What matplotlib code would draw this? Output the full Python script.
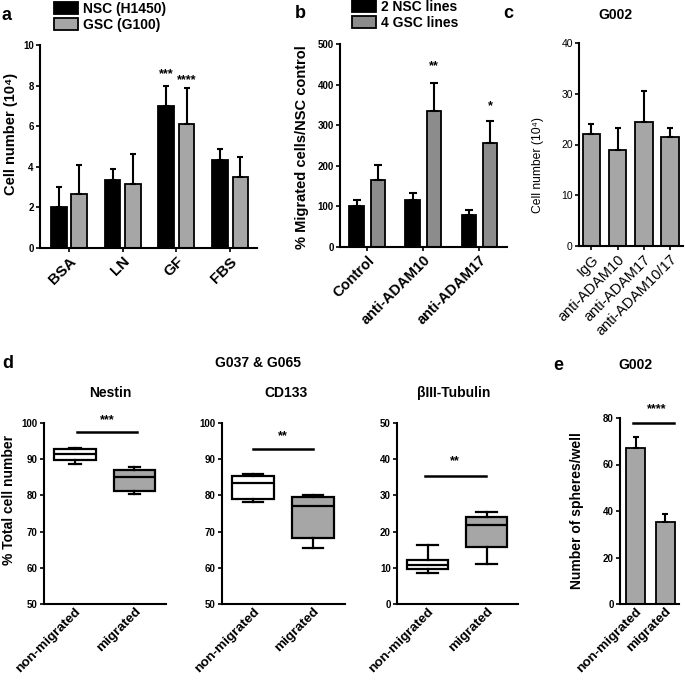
import matplotlib
matplotlib.use('Agg')
import matplotlib.pyplot as plt
import numpy as np

plt.rcParams['font.family'] = ['Liberation Sans', 'DejaVu Sans']
plt.rcParams['font.weight'] = 'bold'
plt.rcParams['axes.labelweight'] = 'bold'

# ---------------- data ----------------
a_categories = ['BSA', 'LN', 'GF', 'FBS']
a_nsc = [2.0, 3.35, 7.0, 4.33]
a_nsc_err = [1.0, 0.55, 1.0, 0.55]
a_gsc = [2.66, 3.15, 6.12, 3.48]
a_gsc_err = [1.43, 1.48, 1.78, 1.0]
a_legend = ['NSC (H1450)', 'GSC (G100)']

b_categories = ['Control', 'anti-ADAM10', 'anti-ADAM17']
b_nsc = [101, 116, 79]
b_nsc_err = [14, 18, 12]
b_gsc = [165, 336, 257]
b_gsc_err = [37, 69, 54]
b_legend = ['2 NSC lines', '4 GSC lines']

c_categories = ['IgG', 'anti-ADAM10', 'anti-ADAM17', 'anti-ADAM10/17']
c_vals = [22.1, 18.9, 24.4, 21.4]
c_err = [1.9, 4.4, 6.1, 1.9]

d_groups = ['non-migrated', 'migrated']
# whislo, q1, med, q3, whishi
nestin_stats = [[88.8, 89.7, 91.4, 92.9, 93.1], [80.5, 81.2, 85.2, 87.1, 87.9]]
cd133_stats = [[78.1, 79.0, 83.3, 85.4, 85.8], [65.4, 68.2, 77.2, 79.6, 80.1]]
tub_stats = [[8.5, 9.7, 10.7, 12.2, 16.3], [11.0, 15.8, 21.8, 24.1, 25.5]]

e_groups = ['non-migrated', 'migrated']
e_vals = [67.0, 35.4]
e_err = [4.7, 3.2]

# ---------------- layout ----------------
W, H = 685, 680
fig = plt.figure(figsize=(W / 100, H / 100), dpi=100)


def axpx(x0, y0, x1, y1):
    return fig.add_axes([x0 / W, 1 - y1 / H, (x1 - x0) / W, (y1 - y0) / H])


def style(ax, labelsize=7):
    for s in ['top', 'right']:
        ax.spines[s].set_visible(False)
    for s in ['left', 'bottom']:
        ax.spines[s].set_linewidth(1.5)
    ax.tick_params(axis='both', direction='out', length=3, width=1.2,
                   labelsize=labelsize, pad=1.5)


def fxy(x, y):
    return x / W, 1 - y / H


LW = 1.3
BLACK = '#000000'
GRAY = '#a6a6a6'
DGRAY = '#8c8c8c'
STAR = 9

# ---------------- panel a ----------------
ax = axpx(40, 45, 257, 248)
style(ax)
x = np.arange(len(a_categories))
off, wd = 0.19, 0.29
b1 = ax.bar(x - off, a_nsc, wd, color=BLACK, edgecolor='black', linewidth=LW)
b2 = ax.bar(x + off, a_gsc, wd, color=GRAY, edgecolor='black', linewidth=LW)
ax.errorbar(x - off, a_nsc, yerr=[np.zeros(len(x)), a_nsc_err], fmt='none',
            ecolor='black', elinewidth=1.5, capsize=2.2, capthick=1.5)
ax.errorbar(x + off, a_gsc, yerr=[np.zeros(len(x)), a_gsc_err], fmt='none',
            ecolor='black', elinewidth=1.5, capsize=2.2, capthick=1.5)
ax.set_ylim(0, 10)
ax.set_yticks([0, 2, 4, 6, 8, 10])
ax.set_xlim(-0.54, 3.5)
ax.set_xticks(x)
ax.set_xticklabels(a_categories, rotation=45, ha='right', rotation_mode='anchor', fontsize=11)
ax.set_ylabel('Cell number (10\u2074)', fontsize=10.5)
ax.yaxis.set_label_coords(-0.101, 0.56)
ax.text(2 - off, 8.55, '***', ha='center', va='center', fontsize=STAR)
ax.text(2 + off, 8.25, '****', ha='center', va='center', fontsize=STAR)
fig.legend([b1, b2], a_legend, loc='upper left', bbox_to_anchor=fxy(54, 2),
           frameon=False, prop={'weight': 'bold', 'size': 10}, handlelength=1.75,
           handleheight=0.95, handletextpad=0.35, labelspacing=0.15,
           borderpad=0, borderaxespad=0)
fig.text(*fxy(7, 15), 'a', fontsize=13, ha='center', va='center')

# ---------------- panel b ----------------
ax = axpx(340, 44, 507, 247)
style(ax)
x = np.arange(len(b_categories))
off, wd = 0.19, 0.26
b1 = ax.bar(x - off, b_nsc, wd, color=BLACK, edgecolor='black', linewidth=LW)
b2 = ax.bar(x + off, b_gsc, wd, color=DGRAY, edgecolor='black', linewidth=LW)
ax.errorbar(x - off, b_nsc, yerr=[np.zeros(len(x)), b_nsc_err], fmt='none',
            ecolor='black', elinewidth=1.5, capsize=2.8, capthick=1.5)
ax.errorbar(x + off, b_gsc, yerr=[np.zeros(len(x)), b_gsc_err], fmt='none',
            ecolor='black', elinewidth=1.5, capsize=2.8, capthick=1.5)
ax.set_ylim(0, 500)
ax.set_yticks([0, 100, 200, 300, 400, 500])
ax.set_xlim(-0.485, 2.49)
ax.set_xticks(x)
ax.set_xticklabels(b_categories, rotation=45, ha='right', rotation_mode='anchor', fontsize=10.5)
ax.set_ylabel('% Migrated cells/NSC control', fontsize=10.5)
ax.yaxis.set_label_coords(-0.186, 0.49)
ax.text(1 + off, 445, '**', ha='center', va='center', fontsize=STAR)
ax.text(2 + off, 346, '*', ha='center', va='center', fontsize=STAR)
fig.legend([b1, b2], b_legend, loc='upper left', bbox_to_anchor=fxy(352, 0),
           frameon=False, prop={'weight': 'bold', 'size': 10}, handlelength=1.75,
           handleheight=0.95, handletextpad=0.35, labelspacing=0.15,
           borderpad=0, borderaxespad=0)
fig.text(*fxy(300, 14), 'b', fontsize=13, ha='center', va='center')

# ---------------- panel c ----------------
ax = axpx(579, 43, 683, 246)
style(ax, labelsize=7.5)
x = np.arange(len(c_categories))
ax.bar(x, c_vals, 0.67, color=GRAY, edgecolor='black', linewidth=LW)
ax.errorbar(x, c_vals, yerr=[np.zeros(len(x)), c_err], fmt='none',
            ecolor='black', elinewidth=1.5, capsize=2.5, capthick=1.5)
ax.set_ylim(0, 40)
ax.set_yticks([0, 10, 20, 30, 40])
ax.set_yticklabels(['0', '10', '20', '30', '40'], fontweight='normal', fontsize=7.5)
ax.set_xlim(-0.475, 3.5)
ax.set_xticks(x)
ax.set_xticklabels(c_categories, rotation=45, ha='right', rotation_mode='anchor',
                   fontsize=10.5, fontweight='normal')
ax.set_ylabel('Cell number (10\u2074)', fontsize=8.7, fontweight='normal')
ax.yaxis.set_label_coords(-0.337, 0.40)
fig.text(*fxy(508, 14), 'c', fontsize=13, ha='center', va='center')
fig.text(*fxy(615, 15), 'G002', fontsize=10, ha='center', va='center')

# ---------------- panel d ----------------
fig.text(*fxy(8, 363), 'd', fontsize=13, ha='center', va='center')
fig.text(*fxy(258, 363), 'G037 & G065', fontsize=10, ha='center', va='center')


def boxpanel(rect, stats, ylim, yticks, title, title_x, sig_y, sig_x, star, star_y, capw):
    ax = axpx(*rect)
    style(ax)
    bst = [dict(whislo=s[0], q1=s[1], med=s[2], q3=s[3], whishi=s[4], fliers=[])
           for s in stats]
    res = ax.bxp(bst, positions=[0, 1], widths=0.7, patch_artist=True,
                 showfliers=False, manage_ticks=False, capwidths=capw,
                 boxprops=dict(edgecolor='black', linewidth=1.6),
                 medianprops=dict(color='black', linewidth=1.6),
                 whiskerprops=dict(color='black', linewidth=1.6),
                 capprops=dict(color='black', linewidth=1.6))
    res['boxes'][0].set_facecolor('white')
    res['boxes'][1].set_facecolor(GRAY)
    ax.set_ylim(*ylim)
    ax.set_yticks(yticks)
    ax.set_xlim(-0.52, 1.53)
    ax.set_xticks([0, 1])
    ax.tick_params(axis='x', length=0, pad=1.0)
    ax.set_xticklabels(d_groups, rotation=45, ha='right',
                       rotation_mode='anchor', fontsize=9.7)
    ax.plot(sig_x, [sig_y, sig_y], color='black', linewidth=1.8, clip_on=False)
    ax.text(np.mean(sig_x), star_y, star, ha='center', va='center', fontsize=STAR, clip_on=False)
    fig.text(*fxy(title_x, 393), title, fontsize=10, ha='center', va='center')
    return ax


ax = boxpanel((44, 423, 166, 604), nestin_stats, (50, 100), [50, 60, 70, 80, 90, 100],
              'Nestin', 110, 97.6, [0.03, 1.04], '***', 100.9, 0.2)
ax.set_ylabel('% Total cell number', fontsize=10)
ax.yaxis.set_label_coords(-0.23, 0.575)
boxpanel((222, 423, 345, 604), cd133_stats, (50, 100), [50, 60, 70, 80, 90, 100],
         'CD133', 286, 92.8, [0.0, 1.0], '**', 96.4, 0.33)
boxpanel((397, 423, 518, 604), tub_stats, (0, 50), [0, 10, 20, 30, 40, 50],
         '\u03b2III-Tubulin', 454, 35.4, [-0.05, 0.98], '**', 39.4, 0.35)

# ---------------- panel e ----------------
ax = axpx(620, 418, 679, 604)
style(ax)
x = np.arange(len(e_groups))
ax.bar(x, e_vals, 0.65, color=GRAY, edgecolor='black', linewidth=LW)
ax.errorbar(x, e_vals, yerr=[np.zeros(len(x)), e_err], fmt='none',
            ecolor='black', elinewidth=1.5, capsize=2.5, capthick=1.5)
ax.set_ylim(0, 80)
ax.set_yticks([0, 20, 40, 60, 80])
ax.set_xlim(-0.53, 1.47)
ax.set_xticks(x)
ax.tick_params(axis='x', length=0, pad=1.0)
ax.set_xticklabels(e_groups, rotation=45, ha='right',
                   rotation_mode='anchor', fontsize=9.7)
ax.set_ylabel('Number of spheres/well', fontsize=10)
ax.yaxis.set_label_coords(-0.61, 0.505)
ax.plot([-0.08, 1.3], [78, 78], color='black', linewidth=1.8, clip_on=False)
ax.text(0.73, 84, '****', ha='center', va='center', fontsize=STAR, clip_on=False)
fig.text(*fxy(558, 365), 'e', fontsize=13, ha='center', va='center')
fig.text(*fxy(635, 365), 'G002', fontsize=10, ha='center', va='center')

fig.savefig('out.png', dpi=100)
